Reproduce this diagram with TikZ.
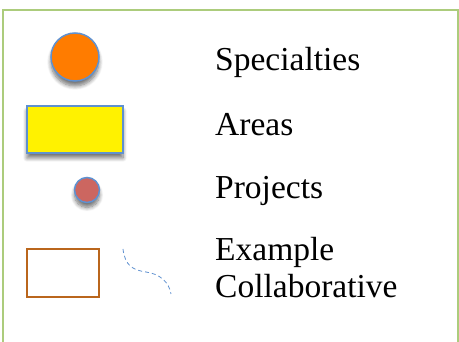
\documentclass[tikz,border=0pt]{standalone}
\usepackage{fontspec}
\setmainfont{Liberation Serif}
\usetikzlibrary{shadows.blur}
\definecolor{framegreen}{RGB}{172,204,124}
\definecolor{edgeblue}{RGB}{95,145,208}
\definecolor{specorange}{RGB}{255,124,0}
\definecolor{projred}{RGB}{204,102,96}
\definecolor{collabbrown}{RGB}{186,102,28}

\begin{document}
\begin{tikzpicture}[x=1pt,y=-1pt,
    legendshadow/.style={blur shadow={shadow xshift=0pt,shadow yshift=-5pt,shadow opacity=55,shadow blur radius=4pt,shadow blur steps=8}},
    legendtext/.style={anchor=base west,inner sep=0pt,font=\fontsize{33.5}{37}\selectfont}]
            \useasboundingbox (0,0) rectangle (459,342);
            % Frame
            \draw[framegreen,line width=1.6pt](3,350)--(3,10)--(458,10)--(458,350);
            % Symbols
            \node[circle,minimum size=48pt,inner sep=0pt,draw=edgeblue,line width=1.5pt,fill=specorange,legendshadow](spec) at (75,57){};
            \node[rectangle,minimum width=96pt,minimum height=47pt,inner sep=0pt,draw=edgeblue,line width=1.5pt,fill=yellow,legendshadow](area) at (75,129.5){};
            \node[circle,minimum size=25pt,inner sep=0pt,draw=edgeblue,line width=1.5pt,fill=projred,legendshadow](proj) at (87,190){};
            \node[rectangle,minimum width=72pt,minimum height=48pt,inner sep=0pt,draw=collabbrown,line width=1.6pt](collab) at (63,273){};
            % Collaboration link
            \coordinate(link1) at (123,249);
            \coordinate(link2) at (171,294);
            \draw[edgeblue,line width=0.8pt,dash pattern=on 4pt off 3pt](link1)..controls(125,266)and(133,270)..(146,272)..controls(160,274)and(169,282)..(link2);
            % Labels
            \node[legendtext](specl) at (215,71){Specialties};
            \node[legendtext](areal) at (215,136){Areas};
            \node[legendtext](projl) at (215,199){Projects};
            \node[legendtext](exl) at (215,261){Example};
            \node[legendtext](collabl) at (215,298){Collaborative};
\end{tikzpicture}
\end{document}
